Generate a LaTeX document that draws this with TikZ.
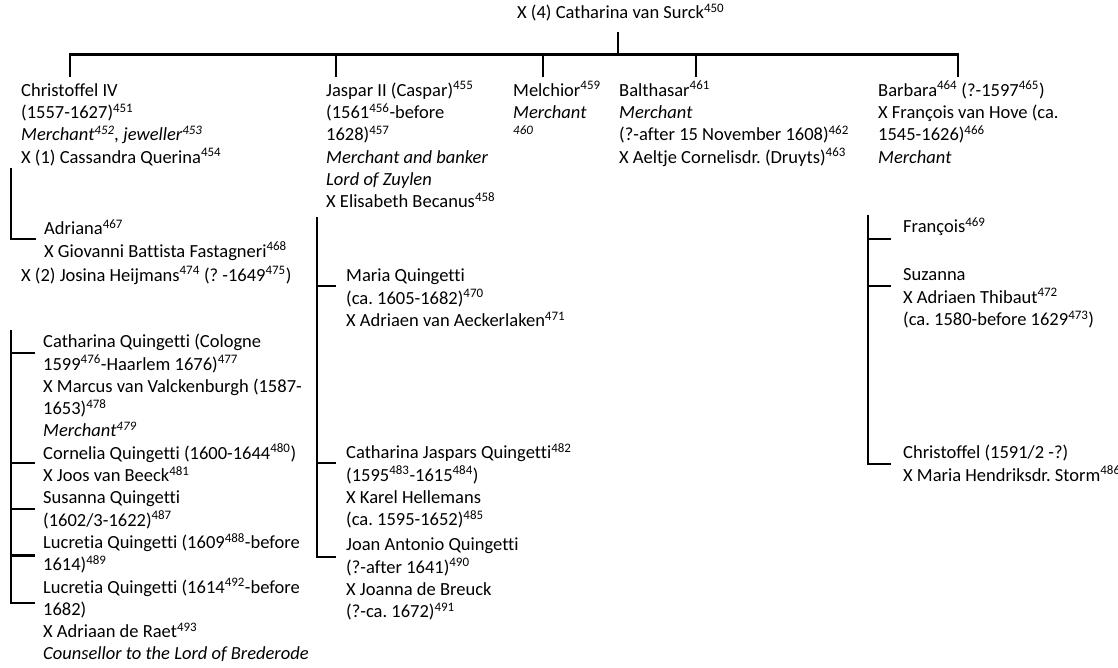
\documentclass[tikz,border=0pt]{standalone}
\usepackage{fontspec}
\setmainfont{Carlito}[Ligatures=NoCommon]
\frenchspacing
\newcommand\nr[1]{\textsuperscript{#1}}
\newcommand\topstrut{\rule{0pt}{18pt}}
\begin{document}
\begin{tikzpicture}[x=1pt,y=-1pt,
  ln/.style={line width=2.6pt},
  txt/.style={anchor=north west,inner sep=0pt,align=left,
    font=\fontsize{18.5}{22.3}\selectfont}]
\useasboundingbox (0,0) rectangle (1118,667);

% parents
\node[txt] (title) at (517,0.5) {\topstrut X (4) Catharina van Surck\nr{450}};

% first generation
\node[txt] (chris) at (21,78) {\topstrut Christoffel IV\\
(1557-1627)\nr{451}\\
\textit{Merchant\nr{452}, jeweller\nr{453}}\\
X (1) Cassandra Querina\nr{454}};
\node[txt] (jaspar) at (326,78) {\topstrut Jaspar II (Caspar)\nr{455}\\
(1561\nr{456}-before\\
1628)\nr{457}\\
\textit{Merchant and banker}\\
\textit{Lord of Zuylen}\\
X Elisabeth Becanus\nr{458}};
\node[txt] (melch) at (513,78) {\topstrut Melchior\nr{459}\\
\textit{Merchant}\\
\textit{\nr{460}}};
\node[txt] (balth) at (619,78) {\topstrut Balthasar\nr{461}\\
\textit{Merchant}\\
(?-after 15 November 1608)\nr{462}\\
X Aeltje Cornelisdr. (Druyts)\nr{463}};
\node[txt] (barb) at (878,78) {\topstrut Barbara\nr{464} (?-1597\nr{465})\\
X François van Hove (ca.\\
1545-1626)\nr{466}\\
\textit{Merchant}};

% children of Christoffel IV
\node[txt] (adri) at (44,216.5) {\topstrut Adriana\nr{467}\\
X Giovanni Battista Fastagneri\nr{468}};
\node[txt] (josina) at (21,263) {\topstrut X (2) Josina Heijmans\nr{474} (? -1649\nr{475})};
\node[txt] (cath) at (43,329.5) {\topstrut Catharina Quingetti (Cologne\\
1599\nr{476}-Haarlem 1676)\nr{477}\\
X Marcus van Valckenburgh (1587-\\
1653)\nr{478}\\
\textit{Merchant\nr{479}}};
\node[txt] (corn) at (43,441) {\topstrut Cornelia Quingetti (1600-1644\nr{480})\\
X Joos van Beeck\nr{481}};
\node[txt] (susa) at (43,485.6) {\topstrut Susanna Quingetti\\
(1602/3-1622)\nr{487}};
\node[txt] (lucr) at (43,530.2) {\topstrut Lucretia Quingetti (1609\nr{488}-before\\
1614)\nr{489}};
\node[txt] (lucrb) at (43,574.8) {\topstrut Lucretia Quingetti (1614\nr{492}-before\\
1682)\\
X Adriaan de Raet\nr{493}\\
\textit{Counsellor to the Lord of Brederode}};

% children of Jaspar II
\node[txt] (maria) at (346,263.5) {\topstrut Maria Quingetti\\
(ca. 1605-1682)\nr{470}\\
X Adriaen van Aeckerlaken\nr{471}};
\node[txt] (cathj) at (346,440.5) {\topstrut Catharina Jaspars Quingetti\nr{482}\\
(1595\nr{483}-1615\nr{484})\\
X Karel Hellemans\\
(ca. 1595-1652)\nr{485}};
\node[txt] (joan) at (346,532.5) {\topstrut Joan Antonio Quingetti\\
(?-after 1641)\nr{490}\\
X Joanna de Breuck\\
(?-ca. 1672)\nr{491}};

% children of Barbara
\node[txt] (fran) at (903,214.5) {\topstrut François\nr{469}};
\node[txt] (suza) at (903,262.5) {\topstrut Suzanna\\
X Adriaen Thibaut\nr{472}\\
(ca. 1580-before 1629\nr{473})};
\node[txt] (chrb) at (903,440.5) {\topstrut Christoffel (1591/2 -?)\\
X Maria Hendriksdr. Storm\nr{486}};

% connector from the parents down to the sibling bar
\coordinate (stem) at (618,32);
\coordinate (bar) at (618,54.5);
\draw[ln] (stem) -- (bar);
\draw[ln] ([xshift=49pt,yshift=1pt]chris.north west) |- (bar);
\draw[ln] ([xshift=10pt,yshift=1pt]jaspar.north west) |- (bar);
\draw[ln] ([xshift=30pt,yshift=1pt]melch.north west) |- (bar);
\draw[ln] ([xshift=77pt,yshift=1pt]balth.north west) |- (bar);
\draw[ln] ([xshift=80pt,yshift=1pt]barb.north west) |- (bar);

% family lines
\coordinate (sa) at (11,168);
\coordinate (sb) at (11,330);
\coordinate (sj) at (317,217);
\coordinate (sr) at (868,215);
\draw[ln] (sa) |- ([xshift=-8pt,yshift=-22.5pt]adri.north west);

\draw[ln] (sb) |- ([xshift=-8pt,yshift=-23.5pt]cath.north west);
\draw[ln] (sb) |- ([xshift=-8pt,yshift=-22pt]corn.north west);
\draw[ln] (sb) |- ([xshift=-8pt,yshift=-23.5pt]susa.north west);
\draw[ln] (sb) |- ([xshift=-8pt,yshift=-25pt]lucr.north west);
\draw[ln] (sb) |- ([xshift=-8pt,yshift=-28pt]lucrb.north west);

\draw[ln] (sj) |- ([xshift=-10pt,yshift=-22.5pt]maria.north west);
\draw[ln] (sj) |- ([xshift=-10pt,yshift=-22.5pt]cathj.north west);
\draw[ln] (sj) |- ([xshift=-10pt,yshift=-24.5pt]joan.north west);

\draw[ln] (sr) |- ([xshift=-12pt,yshift=-24.5pt]fran.north west);
\draw[ln] (sr) |- ([xshift=-12pt,yshift=-23.5pt]suza.north west);
\draw[ln] (sr) |- ([xshift=-12pt,yshift=-23.5pt]chrb.north west);
\end{tikzpicture}
\end{document}
